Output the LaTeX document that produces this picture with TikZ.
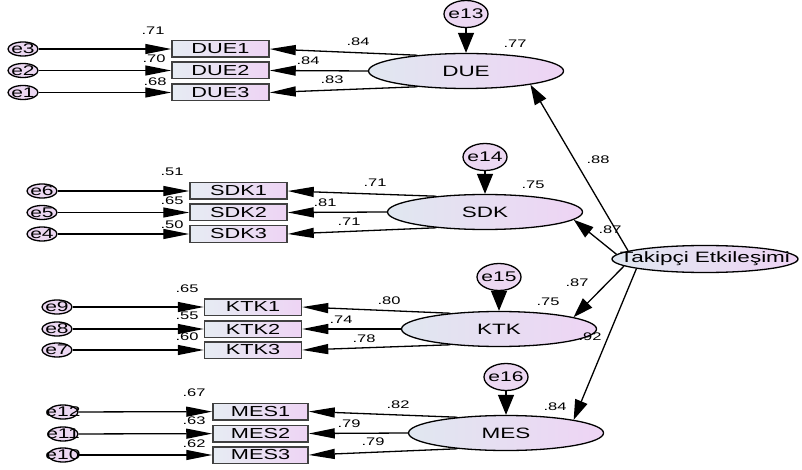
\documentclass[tikz,border=0pt]{standalone}
\usepackage{fontspec}
\usepackage{xcolor}
\usepackage{tikz}
\usetikzlibrary{arrows.meta,shapes.geometric}
\newfontfamily\amos{Liberation Sans}[FakeStretch=1.5]
\definecolor{latl}{RGB}{224,231,240}
\definecolor{latr}{RGB}{238,212,244}
\definecolor{errc}{RGB}{236,216,242}
\newcommand{\nw}[1]{\makebox[0pt]{#1}}

\begin{document}
\begin{tikzpicture}[x=1pt,y=-1pt,
  lat/.style={ellipse,draw,line width=1.3pt,left color=latl,right color=latr,minimum width=195pt,minimum height=35pt,inner sep=0pt,font=\amos\fontsize{15}{15}\selectfont},
  obs/.style={rectangle,draw=black!75,line width=1.5pt,left color=latl!80!white,right color=latr,minimum width=97pt,minimum height=16.5pt,inner sep=0pt,font=\amos\fontsize{14.5}{14.5}\selectfont},
  err/.style={ellipse,draw,line width=1.3pt,fill=errc,minimum width=30pt,minimum height=14pt,inner sep=0pt,font=\amos\fontsize{14}{14}\selectfont},
  errbig/.style={err,minimum width=44pt,minimum height=27pt},
  num/.style={inner sep=0pt,font=\amos\fontsize{11}{11}\selectfont},
  hor/.style={-{Triangle[length=26pt,width=10pt]},line width=1.3pt},
  ver/.style={-{Triangle[length=20pt,width=16pt]},line width=1.3pt},
  dia/.style={-{Triangle[length=20pt,width=13pt]},line width=1.3pt}]
  \useasboundingbox (0,0) rectangle (802,470);
  \node[err] (e3) at (23,49) {\nw{e3}};
  \node[err] (e2) at (23,70.5) {\nw{e2}};
  \node[err] (e1) at (23,92.5) {\nw{e1}};
  \node[obs] (due1) at (220.5,49) {DUE1};
  \node[obs] (due2) at (220.5,70.5) {DUE2};
  \node[obs] (due3) at (220.5,92.5) {DUE3};
  \node[lat] (due) at (466,71) {DUE};
  \node[errbig] (e13) at (466,14) {\nw{e13}};
  \node[err] (e6) at (42,191) {\nw{e6}};
  \node[err] (e5) at (42,212.5) {\nw{e5}};
  \node[err] (e4) at (42,234) {\nw{e4}};
  \node[obs] (sdk1) at (238.5,191) {SDK1};
  \node[obs] (sdk2) at (238.5,212.5) {SDK2};
  \node[obs] (sdk3) at (238.5,234) {SDK3};
  \node[lat] (sdk) at (485,212) {SDK};
  \node[errbig] (e14) at (485,157) {\nw{e14}};
  \node[err] (e9) at (57,307) {\nw{e9}};
  \node[err] (e8) at (57,329) {\nw{e8}};
  \node[err] (e7) at (57,350) {\nw{e7}};
  \node[obs] (ktk1) at (253,307) {KTK1};
  \node[obs] (ktk2) at (253,329) {KTK2};
  \node[obs] (ktk3) at (253,350) {KTK3};
  \node[lat] (ktk) at (499,329) {KTK};
  \node[errbig] (e15) at (499,277) {\nw{e15}};
  \node[err] (e12) at (63,412) {\nw{e12}};
  \node[err] (e11) at (63,434) {\nw{e11}};
  \node[err] (e10) at (63,455) {\nw{e10}};
  \node[obs,minimum width=95pt] (mes1) at (260.5,411.5) {MES1};
  \node[obs,minimum width=95pt] (mes2) at (260.5,433.5) {MES2};
  \node[obs,minimum width=95pt] (mes3) at (260.5,455) {MES3};
  \node[lat] (mes) at (506,433) {MES};
  \node[errbig] (e16) at (506,377) {\nw{e16}};
  \node[lat,minimum width=186pt,minimum height=27pt] (te) at (705,259) {\nw{Takipçi Etkileşimi}};
  \draw[hor] (e3) -- (due1);
  \draw[hor] (e2) -- (due2);
  \draw[hor] (e1) -- (due3);
  \draw[hor] (due.162) -- (due1.east);
  \draw[hor] (due.west) -- (due2.east);
  \draw[hor] (due.198) -- (due3.east);
  \draw[ver] (e13) -- (due);
  \draw[hor] (e6) -- (sdk1);
  \draw[hor] (e5) -- (sdk2);
  \draw[hor] (e4) -- (sdk3);
  \draw[hor] (sdk.162) -- (sdk1.east);
  \draw[hor] (sdk.west) -- (sdk2.east);
  \draw[hor] (sdk.198) -- (sdk3.east);
  \draw[ver] (e14) -- (sdk);
  \draw[hor] (e9) -- (ktk1);
  \draw[hor] (e8) -- (ktk2);
  \draw[hor] (e7) -- (ktk3);
  \draw[hor] (ktk.162) -- (ktk1.east);
  \draw[hor] (ktk.west) -- (ktk2.east);
  \draw[hor] (ktk.198) -- (ktk3.east);
  \draw[ver] (e15) -- (ktk);
  \draw[hor] (e12) -- (mes1);
  \draw[hor] (e11) -- (mes2);
  \draw[hor] (e10) -- (mes3);
  \draw[hor] (mes.162) -- (mes1.east);
  \draw[hor] (mes.west) -- (mes2.east);
  \draw[hor] (mes.198) -- (mes3.east);
  \draw[ver] (e16) -- (mes);
  \draw[dia] (te.174) -- (due.348);
  \draw[dia] (te.177) -- (sdk.355);
  \draw[dia] (te.185) -- (ktk.9);
  \draw[dia] (te.188) -- (mes.11);
  \node[num] (due1v) at (153,31) {.71};
  \node[num] (due2v) at (154,59) {.70};
  \node[num] (due3v) at (155,82) {.68};
  \node[num] (due1l) at (358,42) {.84};
  \node[num] (due2l) at (308,61) {.84};
  \node[num] (due3l) at (332,80) {.83};
  \node[num] (duer) at (515,44) {.77};
  \node[num] (sdk1v) at (172,172) {.51};
  \node[num] (sdk2v) at (172,201) {.65};
  \node[num] (sdk3v) at (172,225) {.50};
  \node[num] (sdk1l) at (375,183) {.71};
  \node[num] (sdk2l) at (325,203) {.81};
  \node[num] (sdk3l) at (349,222) {.71};
  \node[num] (sdkr) at (533,185) {.75};
  \node[num] (ktk1v) at (187,289) {.65};
  \node[num] (ktk2v) at (187,316) {.55};
  \node[num] (ktk3v) at (187,337) {.60};
  \node[num] (ktk1l) at (389,301) {.80};
  \node[num] (ktk2l) at (341,320) {.74};
  \node[num] (ktk3l) at (364,339) {.78};
  \node[num] (ktkr) at (548,302) {.75};
  \node[num] (mes1v) at (194,393) {.67};
  \node[num] (mes2v) at (194,421) {.63};
  \node[num] (mes3v) at (194,444) {.62};
  \node[num] (mes1l) at (398,405) {.82};
  \node[num] (mes2l) at (349,424) {.79};
  \node[num] (mes3l) at (373,442) {.79};
  \node[num] (mesr) at (555,407) {.84};
  \node[num] (tedue) at (598,160) {.88};
  \node[num] (tesdk) at (610,230) {.87};
  \node[num] (tektk) at (577,283) {.87};
  \node[num] (temes) at (590,337) {.92};
\end{tikzpicture}
\end{document}
